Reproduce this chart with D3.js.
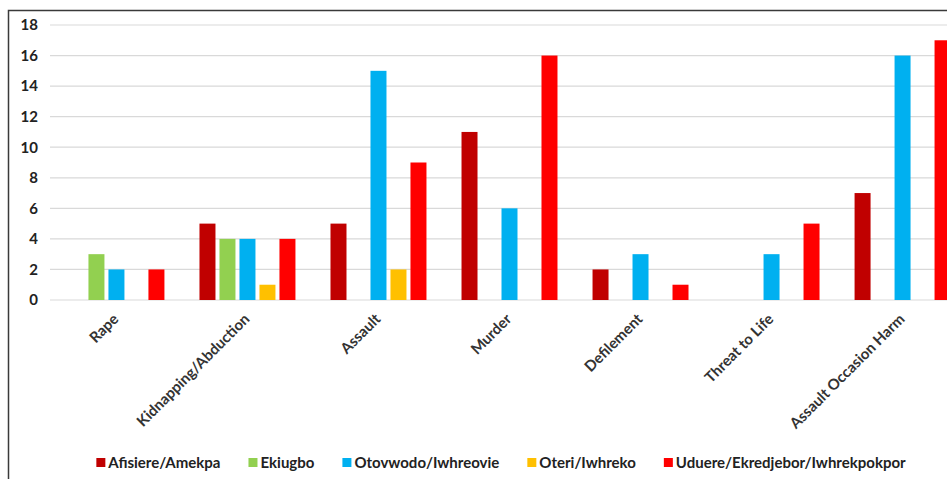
<!DOCTYPE html>
<html>
<head>
<meta charset="utf-8">
<script src="https://cdn.jsdelivr.net/npm/d3@7"></script>
<style>
    body { margin: 0; background: #fff; overflow: hidden; }
    #chart-area { width: 947px; height: 479px; }
    text { font-family: Lato, "Open Sans", sans-serif; font-weight: bold; }
</style>
</head>
<body>
<div id="chart-area"></div>
<script>
// crime categories on x axis
let categories = ["Rape", "Kidnapping/Abduction", "Assault", "Murder", "Defilement", "Threat to Life", "Assault Occasion Harm"];
// communities (series)
let seriesNames = ["Afisiere/Amekpa", "Ekiugbo", "Otovwodo/Iwhreovie", "Oteri/Iwhreko", "Uduere/Ekredjebor/Iwhrekpokpor"];
let afisiere = [0, 5, 5, 11, 2, 0, 7];
let ekiugbo = [3, 4, 0, 0, 0, 0, 0];
let otovwodo = [2, 4, 15, 6, 3, 3, 16];
let oteri = [0, 1, 2, 0, 0, 0, 0];
let uduere = [2, 4, 9, 16, 1, 5, 17];
let yTicks = [0, 2, 4, 6, 8, 10, 12, 14, 16, 18];

class CrimeBars {
    constructor(parentElement) {
        this.parentElement = parentElement;
        this.series = [afisiere, ekiugbo, otovwodo, oteri, uduere];
        this.colors = ["#C00000", "#92D050", "#00B0F0", "#FFC000", "#FF0000"];
        this.initVis();
    }

    initVis() {
        let vis = this;

        vis.svg = d3.select("#" + vis.parentElement).append("svg")
            .attr("width", 947)
            .attr("height", 479);

        // outer frame (right + bottom edges run off the picture)
        vis.svg.append("rect")
            .attr("x", 8.5).attr("y", 10.5)
            .attr("width", 1000).attr("height", 600)
            .attr("fill", "none")
            .attr("stroke", "#3a3a3a")
            .attr("stroke-width", 1.5);

        // scales
        vis.y = d3.scaleLinear().domain([0, 18]).range([300, 25]);
        vis.x0 = d3.scaleBand().domain(categories).range([51, 968])
            .paddingInner(0.237).paddingOuter(0.118);
        vis.x1 = d3.scaleBand().domain(d3.range(seriesNames.length)).range([0, vis.x0.bandwidth()])
            .paddingInner(0.2).paddingOuter(0.1);

        // gridlines
        vis.svg.append("g").selectAll(".grid")
            .data(yTicks)
            .enter().append("line")
            .attr("class", "grid")
            .attr("x1", 50).attr("x2", 947)
            .attr("y1", d => vis.y(d)).attr("y2", d => vis.y(d))
            .attr("stroke", "#d9d9d9")
            .attr("stroke-width", 1.2);

        // y axis labels
        let yAxis = vis.svg.append("g")
            .attr("transform", "translate(38,0)")
            .call(d3.axisLeft(vis.y).tickValues(yTicks).tickSize(0).tickPadding(0));
        yAxis.select(".domain").remove();
        yAxis.selectAll("text")
            .attr("font-size", 15)
            .attr("fill", "#222")
            .attr("font-family", "Lato, sans-serif")
            .attr("font-weight", "bold");

        // bars
        let groups = vis.svg.append("g").selectAll(".cat")
            .data(categories)
            .enter().append("g")
            .attr("class", "cat")
            .attr("transform", d => "translate(" + vis.x0(d) + ",0)");

        groups.selectAll("rect")
            .data((d, i) => vis.series.map((s, j) => ({ s: j, v: s[i] })))
            .enter().append("rect")
            .filter(d => d.v > 0)
            .attr("x", d => vis.x1(d.s))
            .attr("width", vis.x1.bandwidth())
            .attr("y", d => vis.y(d.v))
            .attr("height", d => vis.y(0) - vis.y(d.v))
            .attr("fill", d => vis.colors[d.s]);

        // rotated category labels
        vis.svg.append("g").selectAll(".cat-label")
            .data(categories)
            .enter().append("text")
            .attr("class", "cat-label")
            .attr("text-anchor", "end")
            .attr("font-size", 15)
            .attr("fill", "#333")
            .attr("transform", d => `translate(${vis.x0(d) + vis.x0.bandwidth() / 2 + 3}, 320) rotate(-45)`)
            .text(d => d);

        // legend
        let legend = vis.svg.append("g").attr("class", "legend");
        let items = legend.selectAll(".leg")
            .data(seriesNames)
            .enter().append("g")
            .attr("class", "leg");
        items.append("rect")
            .attr("width", 9).attr("height", 9)
            .attr("y", -10)
            .attr("fill", (d, i) => vis.colors[i]);
        items.append("text")
            .attr("x", 12)
            .attr("font-size", 15)
            .attr("fill", "#222")
            .text(d => d);

        // lay out legend items in a centred row
        let offset = 0, gap = 28;
        items.each(function() {
            let w = 12 + d3.select(this).select("text").node().getComputedTextLength();
            d3.select(this).attr("data-x", offset);
            offset += w + gap;
        });
        let total = offset - gap;
        let start = 501 - total / 2;
        items.attr("transform", function() {
            return "translate(" + (start + (+d3.select(this).attr("data-x"))) + ",468)";
        });
    }
}

new CrimeBars("chart-area");
</script>
</body>
</html>
